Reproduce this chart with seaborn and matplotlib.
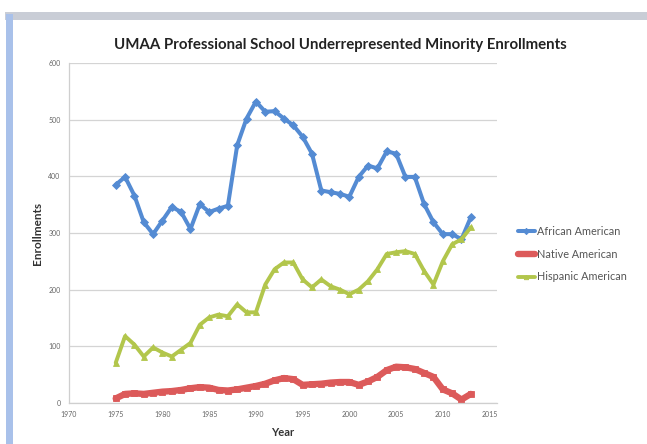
import numpy as np
import pandas as pd
import matplotlib
matplotlib.use("Agg")
import matplotlib.pyplot as plt
from matplotlib.patches import Rectangle
import seaborn as sns

years = list(range(1975, 2014))

african_american = [385, 399, 366, 319, 298, 322, 346, 337, 307, 351,
                    337, 343, 348, 455, 502, 532, 514, 515, 502, 490,
                    470, 440, 375, 372, 369, 364, 399, 419, 414, 444,
                    440, 399, 399, 351, 319, 298, 298, 289, 328]

native_american = [8, 16, 17, 16, 18, 20, 21, 23, 26, 28,
                   27, 23, 22, 24, 27, 30, 34, 40, 44, 42,
                   32, 33, 34, 36, 37, 37, 32, 38, 46, 58,
                   64, 63, 60, 53, 46, 24, 17, 6, 16]

hispanic_american = [71, 118, 103, 82, 98, 89, 82, 94, 106, 138,
                     151, 156, 153, 174, 160, 160, 209, 236, 248, 248,
                     218, 204, 218, 206, 200, 192, 200, 215, 236, 263,
                     266, 268, 263, 233, 209, 250, 280, 289, 310]

series_names = ["African American", "Native American", "Hispanic American"]
x_ticks = [1970, 1975, 1980, 1985, 1990, 1995, 2000, 2005, 2010, 2015]
y_ticks = [0, 100, 200, 300, 400, 500, 600]

df = pd.DataFrame({
    "Year": years * 3,
    "Enrollments": african_american + native_american + hispanic_american,
    "Group": [series_names[0]] * len(years)
             + [series_names[1]] * len(years)
             + [series_names[2]] * len(years),
})

sns.set_theme(style="white")
plt.rcParams["font.family"] = ["Lato", "DejaVu Sans"]

W, H = 647, 444
fig = plt.figure(figsize=(W / 100, H / 100), dpi=100)
fig.patch.set_facecolor("white")

# window frame around the chart
fig.add_artist(Rectangle((5 / W, 1 - 20 / H), 1 - 5 / W, 8 / H,
                         transform=fig.transFigure, facecolor="#c9cdd6",
                         edgecolor="none"))
fig.add_artist(Rectangle((6 / W, 0), 7 / W, 1 - 14 / H,
                         transform=fig.transFigure, facecolor="#a9c1ea",
                         edgecolor="none"))

left, right, top, bottom = 69, 497, 63, 403
ax = fig.add_axes([left / W, 1 - bottom / H, (right - left) / W, (bottom - top) / H])

palette = {
    "African American": "#548bd3",
    "Native American": "#dc5a5a",
    "Hispanic American": "#b2c64c",
}
markers = {
    "African American": "D",
    "Native American": "s",
    "Hispanic American": "^",
}
widths = {"African American": 2.9, "Native American": 4.6, "Hispanic American": 2.8}

for name in series_names:
    sub = df[df["Group"] == name]
    sns.lineplot(data=sub, x="Year", y="Enrollments", ax=ax,
                 color=palette[name], marker=markers[name], markersize=4,
                 markeredgewidth=0.6, markeredgecolor=palette[name],
                 linewidth=widths[name], label=name, legend=False)

ax.set_xlim(1970, 2015.8)
ax.set_ylim(0, 600)
ax.set_xticks(x_ticks)
ax.set_yticks(y_ticks)
ax.set_xticklabels([str(t) for t in x_ticks], fontsize=5, color="#666666")
ax.set_yticklabels([str(t) for t in y_ticks], fontsize=5, color="#666666")
ax.tick_params(axis="both", length=3, width=0.6, color="#bbbbbb", pad=3)
ax.yaxis.grid(True, color="#d4d4d4", linewidth=0.9)
ax.xaxis.grid(False)
for side in ["top", "right"]:
    ax.spines[side].set_visible(False)
for side in ["left", "bottom"]:
    ax.spines[side].set_color("#cfcfcf")
    ax.spines[side].set_linewidth(0.9)

ax.set_xlabel("Year", fontsize=8, fontweight="bold", color="#333333", labelpad=6)
ax.set_ylabel("Enrollments", fontsize=8.5, fontweight="bold", color="#333333", labelpad=4)

fig.text(340 / W, 1 - 45 / H, "UMAA Professional School Underrepresented Minority Enrollments",
         ha="center", va="center", fontsize=10.8, fontweight="bold", color="#222222")

handles, labels = ax.get_legend_handles_labels()
fig.legend(handles, labels, loc="center left", bbox_to_anchor=(508 / W, 1 - 254 / H),
           frameon=False, fontsize=7.8, handlelength=1.6, handletextpad=0.2,
           labelspacing=1.1, labelcolor="#555555", markerscale=0.8)

fig.savefig("out.png", dpi=100, facecolor="white")
